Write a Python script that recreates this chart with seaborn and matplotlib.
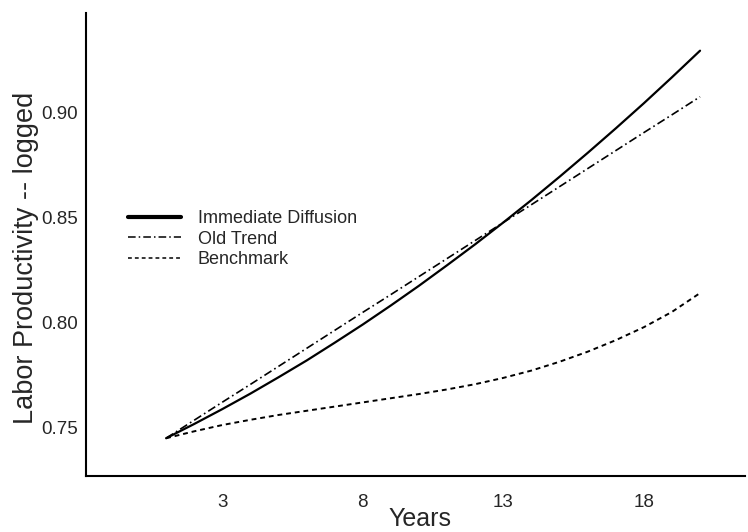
import numpy as np
import pandas as pd
import matplotlib
matplotlib.use("Agg")
import matplotlib.pyplot as plt
from matplotlib.lines import Line2D
import seaborn as sns

years = list(range(1, 21))
immediate = [0.7447, 0.7515, 0.7586, 0.7660, 0.7738, 0.7818, 0.7903, 0.7990,
             0.8081, 0.8175, 0.8273, 0.8373, 0.8477, 0.8584, 0.8695, 0.8809,
             0.8926, 0.9046, 0.9170, 0.9297]
old_trend = [0.7447, 0.7533, 0.7619, 0.7704, 0.7790, 0.7876, 0.7962, 0.8048,
             0.8133, 0.8219, 0.8305, 0.8391, 0.8477, 0.8562, 0.8648, 0.8734,
             0.8820, 0.8906, 0.8991, 0.9077]
benchmark = [0.7447, 0.7480, 0.7510, 0.7535, 0.7558, 0.7578, 0.7598, 0.7618,
             0.7638, 0.7658, 0.7680, 0.7705, 0.7735, 0.7770, 0.7812, 0.7860,
             0.7915, 0.7977, 0.8050, 0.8140]
xticks = [3, 8, 13, 18]
yticks = [0.75, 0.80, 0.85, 0.90]

sns.set_style("white")
plt.rcParams['font.family'] = ['Liberation Sans', 'DejaVu Sans']

df = pd.DataFrame({'year': years, 'Immediate Diffusion': immediate,
                   'Old Trend': old_trend, 'Benchmark': benchmark})

fig = plt.figure(figsize=(7.48, 5.32), dpi=100)
ax = fig.add_axes([0.115, 0.105, 0.881, 0.871])

dashdot = (0, (5, 2, 1, 2))
dashed = (0, (2.5, 2))
sns.lineplot(data=df, x='year', y='Immediate Diffusion', ax=ax,
             color='black', linewidth=1.6)
sns.lineplot(data=df, x='year', y='Old Trend', ax=ax, color='black',
             linewidth=1.2, linestyle=dashdot)
sns.lineplot(data=df, x='year', y='Benchmark', ax=ax, color='black',
             linewidth=1.4, linestyle=dashed)

# legend with its own line weights
handles = [Line2D([], [], color='black', linewidth=3),
           Line2D([], [], color='black', linewidth=1.1, linestyle=dashdot),
           Line2D([], [], color='black', linewidth=1.1, linestyle=dashed)]
ax.legend(handles, ['Immediate Diffusion', 'Old Trend', 'Benchmark'],
          loc='upper left', bbox_to_anchor=(0.064, 0.574), frameon=False,
          fontsize=13, handlelength=2.9, handletextpad=0.95,
          labelspacing=0.2, borderpad=0, borderaxespad=0)

ax.set_xlim(-1.85, 21.6)
ax.set_ylim(0.7266, 0.9478)
ax.set_xticks(xticks)
ax.set_xticklabels([str(t) for t in xticks])
ax.set_yticks(yticks)
ax.set_yticklabels(['%.2f' % t for t in yticks])
ax.tick_params(axis='x', length=0, labelsize=13.5, pad=12.5)
ax.tick_params(axis='y', direction='in', length=6, width=0.8, color='#666666',
               labelsize=13.5, pad=6)

ax.set_xlabel('Years', fontsize=18)
ax.set_ylabel('Labor Productivity -- logged', fontsize=19.5)
ax.xaxis.set_label_coords(0.507, -0.066)
ax.yaxis.set_label_coords(-0.072, 0.472)

sns.despine(ax=ax)
for s in ['left', 'bottom']:
    ax.spines[s].set_color('black')
    ax.spines[s].set_linewidth(1.5)

fig.savefig('out.png', dpi=100)
